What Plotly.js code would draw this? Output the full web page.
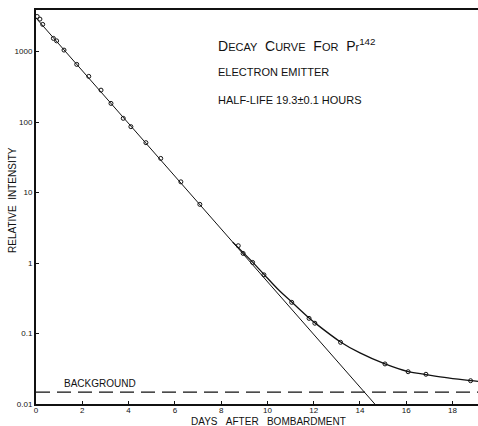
<!DOCTYPE html>
<html><head><meta charset="utf-8">
<script src="https://cdn.plot.ly/plotly-3.0.1.min.js"></script>
<style>html,body{margin:0;padding:0;background:#fff}#c{width:478px;height:426px}</style>
</head><body><div id="c"></div>
<script>
// measured points (days, relative intensity)
const dataDays = [0.05,0.17,0.29,0.75,0.89,1.21,1.76,2.28,2.81,3.24,3.77,4.10,4.75,5.39,6.26,7.08,8.74,8.95,9.36,9.85,11.05,11.80,12.05,13.16,15.08,16.08,16.85,18.78];
const dataIntensity = [3150,2890,2430,1540,1420,1050,658,445,284,184,113,86,51,30.5,14.2,6.8,1.76,1.37,1.02,0.68,0.277,0.164,0.14,0.075,0.037,0.0287,0.0264,0.0214];
// straight-line (single half-life) component endpoints
const lineDays = [0, 14.64];
const lineIntensity = [3000, 0.01];
// smooth fitted curve in the tail region
const curveDays = [8.5, 9.36, 9.85, 10.5, 11.05, 11.8, 12.05, 13.16, 14.0, 15.08, 16.08, 16.85, 17.8, 18.78, 19.1];
const curveIntensity = [1.98, 1.03, 0.69, 0.41, 0.28, 0.166, 0.142, 0.076, 0.053, 0.037, 0.0288, 0.0262, 0.0235, 0.0215, 0.021];
// background level
const bgDays = [0, 19.1];
const bgLevel = [0.0147, 0.0147];
const xTicks = [0,2,4,6,8,10,12,14,16,18];
const yTicks = [0.01,0.1,1,10,100,1000];
const yTickText = ['0.01','0.1','1','10','100','1000'];

const F = 'Liberation Sans, Arial, sans-serif';
const traces = [
  {x: lineDays, y: lineIntensity, mode:'lines', line:{color:'#111', width:1}, hoverinfo:'skip'},
  {x: curveDays, y: curveIntensity, mode:'lines', line:{color:'#111', width:1.3, shape:'spline'}, hoverinfo:'skip'},
  {x: bgDays, y: bgLevel, mode:'lines', line:{color:'#111', width:1.2, dash:'14px,7px'}, hoverinfo:'skip'},
  {x: dataDays, y: dataIntensity, mode:'markers', marker:{symbol:'circle-open', size:4, color:'#111', line:{width:1, color:'#111'}}}
];
const sm = s => "<span style='font-size:11px'>"+s+"</span>";
const layout = {
  width:478, height:426, showlegend:false,
  paper_bgcolor:'#fff', plot_bgcolor:'#fff',
  margin:{l:36, r:0, t:10, b:22},
  font:{family:F, color:'#111'},
  xaxis:{range:[0,19.1], tickvals:xTicks, ticks:'inside', ticklen:3, tickwidth:1, tickcolor:'#111',
         showgrid:false, zeroline:false, showline:true, linewidth:2, linecolor:'#111', mirror:true,
         ticklabelstandoff:-3,
         tickfont:{size:8, family:F, color:'#111'}},
  yaxis:{type:'log', range:[-2,3.59], tickvals:yTicks, ticktext:yTickText, ticks:'inside', ticklen:3, tickwidth:1, tickcolor:'#111',
         showgrid:false, zeroline:false, showline:true, linewidth:2, linecolor:'#111',
         tickfont:{size:8, family:F, color:'#111'}},
  annotations:[
    {x:7.78, y:3.092, xref:'x', yref:'y', xanchor:'left', yanchor:'middle', showarrow:false,
     text:"D"+sm("ECAY")+"  C"+sm("URVE")+"  F"+sm("OR")+"  P"+sm("r")+"<sup>142</sup>", font:{size:14, family:F, color:'#111'}},
    {x:7.78, y:2.709, xref:'x', yref:'y', xanchor:'left', yanchor:'middle', showarrow:false,
     text:"ELECTRON EMITTER", font:{size:11, family:F, color:'#111'}},
    {x:7.78, y:2.312, xref:'x', yref:'y', xanchor:'left', yanchor:'middle', showarrow:false,
     text:"HALF-LIFE 19.3±0.1 HOURS", font:{size:11, family:F, color:'#111'}},
    {x:1.12, y:-1.716, xref:'x', yref:'y', xanchor:'left', yanchor:'middle', showarrow:false,
     text:"BACKGROUND", font:{size:10, family:F, color:'#111'}},
    {x:-0.052, y:0.518, xref:'paper', yref:'paper', xanchor:'center', yanchor:'middle', showarrow:false, textangle:-90,
     text:"RELATIVE&nbsp;&nbsp;INTENSITY", font:{size:10, family:F, color:'#111'}},
    {x:0.525, y:-0.044, xref:'paper', yref:'paper', xanchor:'center', yanchor:'middle', showarrow:false,
     text:"DAYS&nbsp;&nbsp;&nbsp;AFTER&nbsp;&nbsp;&nbsp;BOMBARDMENT", font:{size:10, family:F, color:'#111'}}
  ]
};
Plotly.newPlot('c', traces, layout, {staticPlot:true, displayModeBar:false});
</script></body></html>
